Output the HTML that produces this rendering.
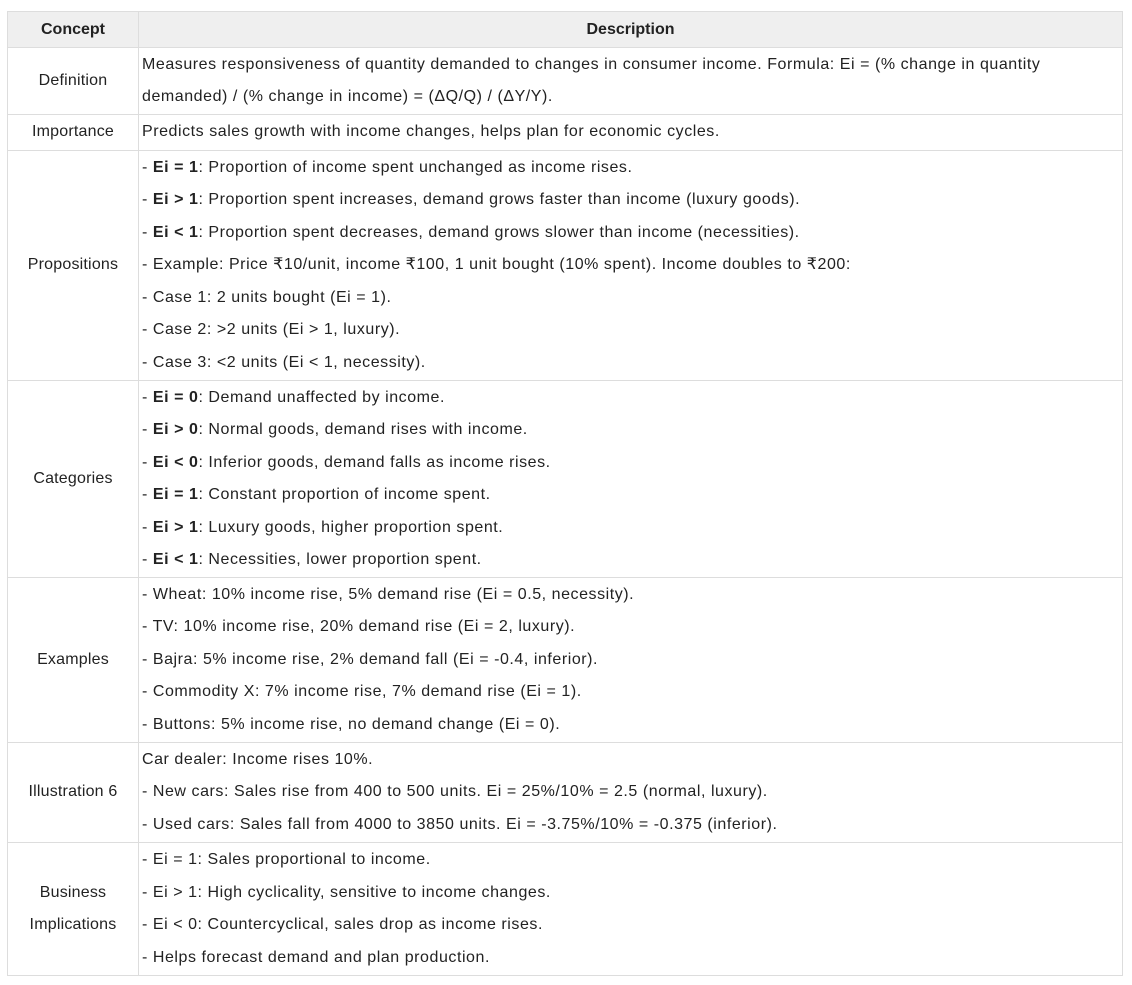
<!DOCTYPE html>
<html><head><meta charset="utf-8"><style>
body{margin:0;background:#fff;width:1132px;height:985px;overflow:hidden;font-family:"Liberation Sans",sans-serif;color:#222}
table{position:absolute;left:7px;top:11px;width:1116px;border-collapse:collapse;font-size:16px;letter-spacing:0.55px}
td,th{border:1px solid #ddd;padding:0 3px;line-height:32.5px;white-space:nowrap;vertical-align:middle}
th{background:#efefef;font-weight:bold;height:35px;line-height:35px;text-align:center;font-size:16px;letter-spacing:0}
td:first-child{text-align:center;width:124px;letter-spacing:0.2px}
td{text-align:left}
</style></head><body>
<table>
<tr><th>Concept</th><th>Description</th></tr>
<tr style="height:67px"><td>Definition</td><td>Measures responsiveness of quantity demanded to changes in consumer income. Formula: Ei = (% change in quantity<br>demanded) / (% change in income) = (ΔQ/Q) / (ΔY/Y).</td></tr>
<tr style="height:36px"><td>Importance</td><td>Predicts sales growth with income changes, helps plan for economic cycles.</td></tr>
<tr style="height:230px"><td>Propositions</td><td>- <b>Ei = 1</b>: Proportion of income spent unchanged as income rises.<br>- <b>Ei &gt; 1</b>: Proportion spent increases, demand grows faster than income (luxury goods).<br>- <b>Ei &lt; 1</b>: Proportion spent decreases, demand grows slower than income (necessities).<br>- Example: Price ₹10/unit, income ₹100, 1 unit bought (10% spent). Income doubles to ₹200:<br>- Case 1: 2 units bought (Ei = 1).<br>- Case 2: &gt;2 units (Ei &gt; 1, luxury).<br>- Case 3: &lt;2 units (Ei &lt; 1, necessity).</td></tr>
<tr style="height:197px"><td>Categories</td><td>- <b>Ei = 0</b>: Demand unaffected by income.<br>- <b>Ei &gt; 0</b>: Normal goods, demand rises with income.<br>- <b>Ei &lt; 0</b>: Inferior goods, demand falls as income rises.<br>- <b>Ei = 1</b>: Constant proportion of income spent.<br>- <b>Ei &gt; 1</b>: Luxury goods, higher proportion spent.<br>- <b>Ei &lt; 1</b>: Necessities, lower proportion spent.</td></tr>
<tr style="height:165px"><td>Examples</td><td>- Wheat: 10% income rise, 5% demand rise (Ei = 0.5, necessity).<br>- TV: 10% income rise, 20% demand rise (Ei = 2, luxury).<br>- Bajra: 5% income rise, 2% demand fall (Ei = -0.4, inferior).<br>- Commodity X: 7% income rise, 7% demand rise (Ei = 1).<br>- Buttons: 5% income rise, no demand change (Ei = 0).</td></tr>
<tr style="height:100px"><td>Illustration 6</td><td>Car dealer: Income rises 10%.<br>- New cars: Sales rise from 400 to 500 units. Ei = 25%/10% = 2.5 (normal, luxury).<br>- Used cars: Sales fall from 4000 to 3850 units. Ei = -3.75%/10% = -0.375 (inferior).</td></tr>
<tr style="height:133px"><td>Business<br>Implications</td><td>- Ei = 1: Sales proportional to income.<br>- Ei &gt; 1: High cyclicality, sensitive to income changes.<br>- Ei &lt; 0: Countercyclical, sales drop as income rises.<br>- Helps forecast demand and plan production.</td></tr>
</table>
</body></html>
